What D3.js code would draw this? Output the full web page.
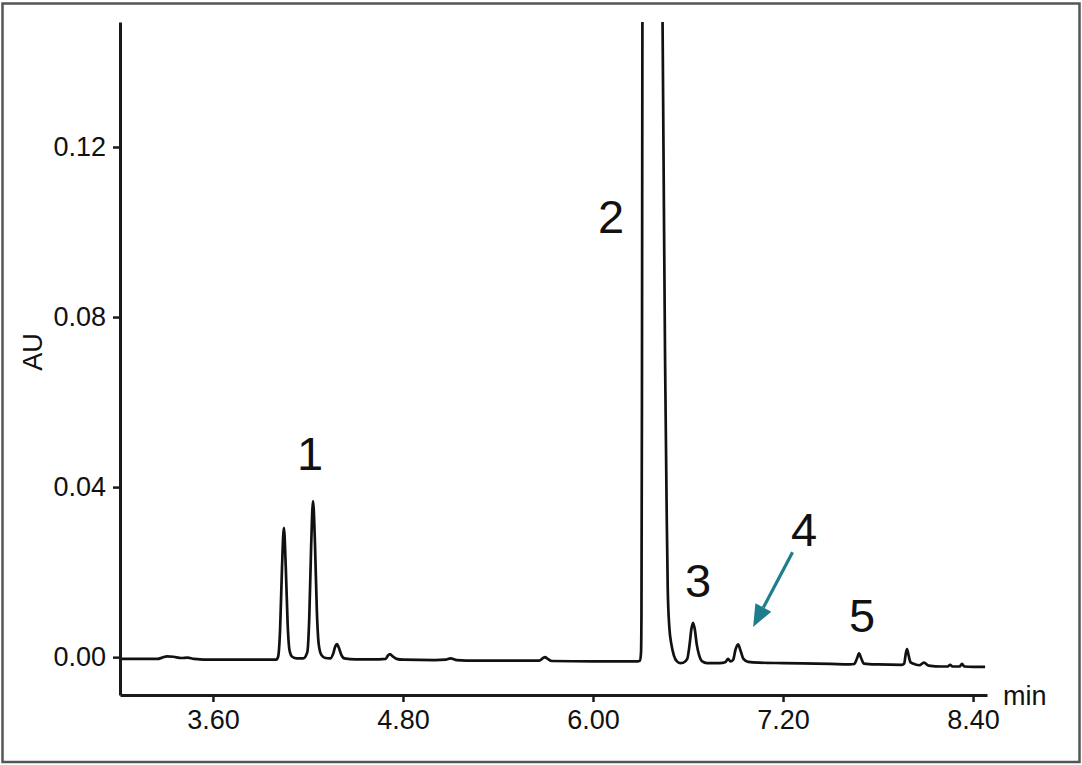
<!DOCTYPE html>
<html>
<head>
<meta charset="utf-8">
<script src="https://cdn.jsdelivr.net/npm/d3@7"></script>
<style>
  html, body { margin: 0; padding: 0; background: #fff; }
  svg { display: block; }
  text { font-family: "Liberation Sans", Arial, sans-serif; fill: #111; }
</style>
</head>
<body>
<svg id="chart" width="1082" height="765"></svg>
<script>
// ---- data ----
const times = [
  3.013, 3.25, 3.28, 3.31, 3.35, 3.40, 3.44, 3.48, 3.60, 3.80, 3.98,
  4.000, 4.012, 4.024, 4.036, 4.048, 4.060, 4.072, 4.084, 4.100, 4.130,
  4.170, 4.196, 4.208, 4.220, 4.232, 4.244, 4.256, 4.268, 4.285, 4.310,
  4.340, 4.360, 4.372, 4.383, 4.395, 4.410, 4.430, 4.50, 4.65,
  4.690, 4.705, 4.718, 4.735, 4.760, 4.80, 5.00,
  5.070, 5.100, 5.140, 5.20, 5.60,
  5.660, 5.685, 5.697, 5.710, 5.740, 6.00, 6.28,
  6.296, 6.303, 6.306, 6.309, 6.312, 6.320, 6.360, 6.400, 6.435, 6.445,
  6.455, 6.465, 6.472, 6.482, 6.495, 6.510, 6.530, 6.550,
  6.570, 6.595, 6.610, 6.622, 6.632, 6.643, 6.655, 6.670, 6.690, 6.720,
  6.800, 6.835, 6.853, 6.868, 6.885, 6.900, 6.916, 6.932, 6.950, 6.980,
  7.05, 7.20, 7.50, 7.62,
  7.650, 7.668, 7.680, 7.693, 7.710, 7.80, 7.95,
  7.965, 7.975, 7.983, 7.993, 8.005, 8.020,
  8.060, 8.090, 8.120, 8.200, 8.240, 8.255, 8.270, 8.315, 8.330, 8.345, 8.400, 8.476
];
const absorbance = [
  -0.0004, -0.0004, -0.0001, 0.0002, 0.0001, -0.0002, -0.0001, -0.0004, -0.0006, -0.0006, -0.0006,
  -0.0006, 0.0002, 0.0065, 0.0210, 0.0304, 0.0210, 0.0075, 0.0015, 0.0001, -0.0003,
  -0.0003, 0.0012, 0.0090, 0.0260, 0.0367, 0.0270, 0.0110, 0.0030, 0.0005, -0.0002,
  -0.0003, 0.0009, 0.0025, 0.0031, 0.0022, 0.0006, -0.0003, -0.0005, -0.0005,
  -0.0004, 0.0004, 0.0007, 0.0002, -0.0004, -0.0006, -0.0007,
  -0.0006, -0.0003, -0.0007, -0.0008, -0.0008,
  -0.0008, -0.0002, 0.0000, -0.0003, -0.0009, -0.0010, -0.0010,
  -0.0008, 0.0010, 0.0100, 0.0600, 0.1500, 0.2400, 0.3000, 0.2600, 0.1700, 0.1200,
  0.0700, 0.0350, 0.0160, 0.0070, 0.0030, 0.0005, -0.0010, -0.0014,
  -0.0013, -0.0004, 0.0030, 0.0068, 0.0081, 0.0065, 0.0030, 0.0005, -0.0010, -0.0014,
  -0.0014, -0.0012, -0.0004, -0.0010, -0.0006, 0.0018, 0.0030, 0.0015, -0.0004, -0.0011,
  -0.0013, -0.0014, -0.0016, -0.0017,
  -0.0016, -0.0002, 0.0009, -0.0002, -0.0015, -0.0017, -0.0018,
  -0.0015, 0.0008, 0.0019, 0.0004, -0.0012, -0.0015,
  -0.0019, -0.0013, -0.0020, -0.0022, -0.0022, -0.0018, -0.0022, -0.0022, -0.0016, -0.0022, -0.0023, -0.0023
];
const xTicks = [3.6, 4.8, 6.0, 7.2, 8.4];
const yTicks = [0.00, 0.04, 0.08, 0.12];
const xDomain = [3.013, 8.488];
const yDomain = [-0.0089, 0.1494];
const peakLabels = ["1", "2", "3", "4", "5"];
const peakLabelTimes = [4.213, 6.114, 6.663, 7.333, 7.699];
const peakLabelAU = [0.0440, 0.0998, 0.0141, 0.0261, 0.0059];
const arrowFrom = [7.260, 0.0247];
const arrowTo = [7.011, 0.0071];

// ---- layout ----
const svg = d3.select("#chart");
const W = 1082, H = 765;
const m = { left: 120, right: 1082 - 987, top: 22, bottom: 765 - 695 };

svg.append("rect")
  .attr("x", 2.5).attr("y", 3.5).attr("width", W - 5).attr("height", H - 6.5)
  .attr("fill", "#fff").attr("stroke", "#555").attr("stroke-width", 2.5);

const x = d3.scaleLinear().domain(xDomain).range([m.left, W - m.right]);
const y = d3.scaleLinear().domain(yDomain).range([H - m.bottom, m.top]);

svg.append("defs").append("clipPath").attr("id", "plotclip")
  .append("rect").attr("x", m.left).attr("y", m.top)
  .attr("width", W - m.right - m.left).attr("height", H - m.bottom - m.top);

const data = times.map((t, i) => ({ t, v: absorbance[i] }));

const line = d3.line().x(d => x(d.t)).y(d => y(d.v)).curve(d3.curveMonotoneX);

svg.append("path")
  .datum(data)
  .attr("clip-path", "url(#plotclip)")
  .attr("d", line)
  .attr("fill", "none")
  .attr("stroke", "#111")
  .attr("stroke-width", 2.7)
  .attr("stroke-linejoin", "round");

// axes
const xAxis = d3.axisBottom(x).tickValues(xTicks).tickFormat(d3.format(".2f"))
  .tickSizeInner(7).tickSizeOuter(0).tickPadding(8);
const yAxis = d3.axisLeft(y).tickValues(yTicks).tickFormat(d3.format(".2f"))
  .tickSizeInner(7).tickSizeOuter(0).tickPadding(7);

const gx = svg.append("g").attr("transform", `translate(0,${H - m.bottom})`).call(xAxis);
const gy = svg.append("g").attr("transform", `translate(${m.left},0)`).call(yAxis);

[gx, gy].forEach(g => {
  g.select(".domain").attr("stroke", "#1a1a1a").attr("stroke-width", 3);
  g.selectAll(".tick line").attr("stroke", "#1a1a1a").attr("stroke-width", 2.5);
  g.selectAll(".tick text").attr("font-size", 27).attr("fill", "#111")
    .attr("font-family", '"Liberation Sans", Arial, sans-serif');
});

// axis titles
svg.append("text")
  .attr("transform", `translate(42,352) rotate(-90)`)
  .attr("text-anchor", "middle")
  .attr("font-size", 27)
  .text("AU");

svg.append("text")
  .attr("x", 1003).attr("y", 705)
  .attr("font-size", 27)
  .text("min");

// peak labels
svg.selectAll(".plabel")
  .data(peakLabels)
  .join("text")
  .attr("class", "plabel")
  .attr("x", (d, i) => x(peakLabelTimes[i]))
  .attr("y", (d, i) => y(peakLabelAU[i]))
  .attr("text-anchor", "middle")
  .attr("font-size", 47)
  .text(d => d);

// arrow annotation
const ax0 = x(arrowFrom[0]), ay0 = y(arrowFrom[1]);
const ax1 = x(arrowTo[0]), ay1 = y(arrowTo[1]);
const ang = Math.atan2(ay1 - ay0, ax1 - ax0);
const headLen = 22, headHalf = 9;
const bx = ax1 - headLen * Math.cos(ang), by = ay1 - headLen * Math.sin(ang);
const arrowColor = "#1e7d8c";
svg.append("line")
  .attr("x1", ax0).attr("y1", ay0).attr("x2", bx).attr("y2", by)
  .attr("stroke", arrowColor).attr("stroke-width", 3.2);
const px = -Math.sin(ang), py = Math.cos(ang);
svg.append("path")
  .attr("d", `M${ax1},${ay1} L${bx + px * headHalf},${by + py * headHalf} L${bx - px * headHalf},${by - py * headHalf} Z`)
  .attr("fill", arrowColor);
</script>
</body>
</html>
